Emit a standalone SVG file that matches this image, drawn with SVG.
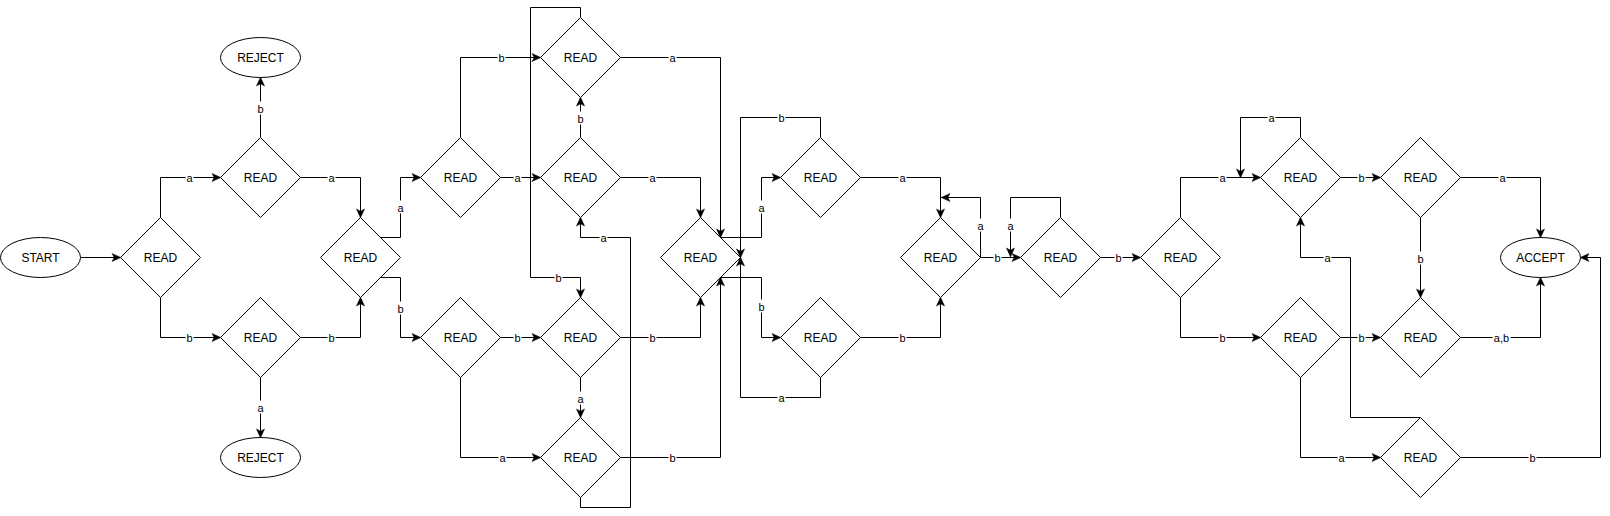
<svg xmlns="http://www.w3.org/2000/svg" width="1610" height="516" viewBox="0 0 1610 516">
<style>
.n{fill:#fff;stroke:#000;stroke-width:1}
.t{font-family:"Liberation Sans",Arial,sans-serif;font-size:12px;fill:#000;text-anchor:middle;dominant-baseline:central}
.e{fill:none;stroke:#000;stroke-width:1;marker-end:url(#ar)}
.l{font-family:"Liberation Sans",Arial,sans-serif;font-size:11px;fill:#000;text-anchor:middle;dominant-baseline:central}
.lb{fill:#fff;stroke:none}
</style>
<defs>
<marker id="ar" viewBox="0 0 10 10" refX="9.5" refY="5" markerWidth="10" markerHeight="9" markerUnits="userSpaceOnUse" orient="auto">
<path d="M0,0.5 L10,5 L0,9.5 L2.5,5 Z" fill="#000" stroke="#000" stroke-width="0.5"/>
</marker>
</defs>
<rect width="1610" height="516" fill="#fff"/>
<g transform="translate(0.5,0.5)">
<g id="connectors">
<path class="e" d="M80,257 L120,257"/>
<path class="e" d="M160,217 L160,177 L220,177"/>
<path class="e" d="M160,297 L160,337 L220,337"/>
<path class="e" d="M260,137 L260,77"/>
<path class="e" d="M260,377 L260,437"/>
<path class="e" d="M300,177 L360,177 L360,217"/>
<path class="e" d="M300,337 L360,337 L360,297"/>
<path class="e" d="M380,237 L400,237 L400,177 L420,177"/>
<path class="e" d="M380,277 L400,277 L400,337 L420,337"/>
<path class="e" d="M460,137 L460,57 L540,57"/>
<path class="e" d="M500,177 L540,177"/>
<path class="e" d="M500,337 L540,337"/>
<path class="e" d="M460,377 L460,457 L540,457"/>
<path class="e" d="M580,137 L580,97"/>
<path class="e" d="M580,377 L580,417"/>
<path class="e" d="M580,17 L580,7 L530,7 L530,277 L580,277 L580,297"/>
<path class="e" d="M580,497 L580,507 L630,507 L630,237 L580,237 L580,217"/>
<path class="e" d="M620,57 L720,57 L720,237"/>
<path class="e" d="M620,177 L700,177 L700,217"/>
<path class="e" d="M620,337 L700,337 L700,297"/>
<path class="e" d="M620,457 L720,457 L720,277"/>
<path class="e" d="M720,237 L761,237 L761,177 L780,177"/>
<path class="e" d="M720,277 L761,277 L761,337 L780,337"/>
<path class="e" d="M820,137 L820,117 L740,117 L740,257"/>
<path class="e" d="M820,377 L820,397 L740,397 L740,257"/>
<path class="e" d="M860,177 L940,177 L940,217"/>
<path class="e" d="M860,337 L940,337 L940,297"/>
<path class="e" d="M980,257 L980,197 L941,197"/>
<path class="e" d="M980,257 L1020,257"/>
<path class="e" d="M1060,217 L1060,197 L1010,197 L1010,256"/>
<path class="e" d="M1100,257 L1140,257"/>
<path class="e" d="M1180,217 L1180,177 L1260,177"/>
<path class="e" d="M1180,297 L1180,337 L1260,337"/>
<path class="e" d="M1300,137 L1300,117 L1240,117 L1240,177"/>
<path class="e" d="M1340,177 L1380,177"/>
<path class="e" d="M1460,177 L1540,177 L1540,237"/>
<path class="e" d="M1420,217 L1420,297"/>
<path class="e" d="M1340,337 L1380,337"/>
<path class="e" d="M1460,337 L1540,337 L1540,277"/>
<path class="e" d="M1300,377 L1300,457 L1380,457"/>
<path class="e" d="M1420,417 L1350,417 L1350,257 L1300,257 L1300,217"/>
<path class="e" d="M1460,457 L1600,457 L1600,257 L1580,257"/>
<g id="labels">
<rect class="lb" x="185" y="170" width="8" height="13"/><text class="l" x="189" y="177">a</text>
<rect class="lb" x="185" y="330" width="8" height="13"/><text class="l" x="189" y="337">b</text>
<rect class="lb" x="256" y="101" width="8" height="13"/><text class="l" x="260" y="108">b</text>
<rect class="lb" x="256" y="400" width="8" height="13"/><text class="l" x="260" y="407">a</text>
<rect class="lb" x="327" y="170" width="8" height="13"/><text class="l" x="331" y="177">a</text>
<rect class="lb" x="327" y="330" width="8" height="13"/><text class="l" x="331" y="337">b</text>
<rect class="lb" x="396" y="200" width="8" height="13"/><text class="l" x="400" y="207">a</text>
<rect class="lb" x="396" y="301" width="8" height="13"/><text class="l" x="400" y="308">b</text>
<rect class="lb" x="497" y="50" width="8" height="13"/><text class="l" x="501" y="57">b</text>
<rect class="lb" x="513" y="170" width="8" height="13"/><text class="l" x="517" y="177">a</text>
<rect class="lb" x="513" y="330" width="8" height="13"/><text class="l" x="517" y="337">b</text>
<rect class="lb" x="498" y="450" width="8" height="13"/><text class="l" x="502" y="457">a</text>
<rect class="lb" x="576" y="111" width="8" height="13"/><text class="l" x="580" y="118">b</text>
<rect class="lb" x="576" y="391" width="8" height="13"/><text class="l" x="580" y="398">a</text>
<rect class="lb" x="554" y="270" width="8" height="13"/><text class="l" x="558" y="277">b</text>
<rect class="lb" x="599" y="230" width="8" height="13"/><text class="l" x="603" y="237">a</text>
<rect class="lb" x="668" y="50" width="8" height="13"/><text class="l" x="672" y="57">a</text>
<rect class="lb" x="648" y="170" width="8" height="13"/><text class="l" x="652" y="177">a</text>
<rect class="lb" x="648" y="330" width="8" height="13"/><text class="l" x="652" y="337">b</text>
<rect class="lb" x="668" y="450" width="8" height="13"/><text class="l" x="672" y="457">b</text>
<rect class="lb" x="757" y="200" width="8" height="13"/><text class="l" x="761" y="207">a</text>
<rect class="lb" x="757" y="299" width="8" height="13"/><text class="l" x="761" y="306">b</text>
<rect class="lb" x="777" y="110" width="8" height="13"/><text class="l" x="781" y="117">b</text>
<rect class="lb" x="777" y="390" width="8" height="13"/><text class="l" x="781" y="397">a</text>
<rect class="lb" x="898" y="170" width="8" height="13"/><text class="l" x="902" y="177">a</text>
<rect class="lb" x="898" y="330" width="8" height="13"/><text class="l" x="902" y="337">b</text>
<rect class="lb" x="976" y="218" width="8" height="13"/><text class="l" x="980" y="225">a</text>
<rect class="lb" x="993" y="250" width="8" height="13"/><text class="l" x="997" y="257">b</text>
<rect class="lb" x="1006" y="218" width="8" height="13"/><text class="l" x="1010" y="225">a</text>
<rect class="lb" x="1114" y="250" width="8" height="13"/><text class="l" x="1118" y="257">b</text>
<rect class="lb" x="1218" y="170" width="8" height="13"/><text class="l" x="1222" y="177">a</text>
<rect class="lb" x="1218" y="330" width="8" height="13"/><text class="l" x="1222" y="337">b</text>
<rect class="lb" x="1267" y="110" width="8" height="13"/><text class="l" x="1271" y="117">a</text>
<rect class="lb" x="1357" y="170" width="8" height="13"/><text class="l" x="1361" y="177">b</text>
<rect class="lb" x="1498" y="170" width="8" height="13"/><text class="l" x="1502" y="177">a</text>
<rect class="lb" x="1416" y="251" width="8" height="13"/><text class="l" x="1420" y="258">b</text>
<rect class="lb" x="1357" y="330" width="8" height="13"/><text class="l" x="1361" y="337">b</text>
<rect class="lb" x="1492" y="330" width="18" height="13"/><text class="l" x="1501" y="337">a,b</text>
<rect class="lb" x="1337" y="450" width="8" height="13"/><text class="l" x="1341" y="457">a</text>
<rect class="lb" x="1323" y="250" width="8" height="13"/><text class="l" x="1327" y="257">a</text>
<rect class="lb" x="1528" y="450" width="8" height="13"/><text class="l" x="1532" y="457">b</text>
</g>
</g>
<g id="start"><ellipse class="n" cx="40" cy="257" rx="40" ry="20"/><text class="t" x="40" y="257">START</text></g>
<g id="read1"><path class="n" d="M160,217 L200,257 L160,297 L120,257 Z"/><text class="t" x="160" y="257">READ</text></g>
<g id="read2"><path class="n" d="M260,137 L300,177 L260,217 L220,177 Z"/><text class="t" x="260" y="177">READ</text></g>
<g id="read3"><path class="n" d="M260,297 L300,337 L260,377 L220,337 Z"/><text class="t" x="260" y="337">READ</text></g>
<g id="reject1"><ellipse class="n" cx="260" cy="57" rx="40" ry="20"/><text class="t" x="260" y="57">REJECT</text></g>
<g id="reject2"><ellipse class="n" cx="260" cy="457" rx="40" ry="20"/><text class="t" x="260" y="457">REJECT</text></g>
<g id="read4"><path class="n" d="M360,217 L400,257 L360,297 L320,257 Z"/><text class="t" x="360" y="257">READ</text></g>
<g id="read5"><path class="n" d="M460,137 L500,177 L460,217 L420,177 Z"/><text class="t" x="460" y="177">READ</text></g>
<g id="read6"><path class="n" d="M460,297 L500,337 L460,377 L420,337 Z"/><text class="t" x="460" y="337">READ</text></g>
<g id="read7"><path class="n" d="M580,17 L620,57 L580,97 L540,57 Z"/><text class="t" x="580" y="57">READ</text></g>
<g id="read8"><path class="n" d="M580,137 L620,177 L580,217 L540,177 Z"/><text class="t" x="580" y="177">READ</text></g>
<g id="read9"><path class="n" d="M580,297 L620,337 L580,377 L540,337 Z"/><text class="t" x="580" y="337">READ</text></g>
<g id="read10"><path class="n" d="M580,417 L620,457 L580,497 L540,457 Z"/><text class="t" x="580" y="457">READ</text></g>
<g id="read11"><path class="n" d="M700,217 L740,257 L700,297 L660,257 Z"/><text class="t" x="700" y="257">READ</text></g>
<g id="read12"><path class="n" d="M820,137 L860,177 L820,217 L780,177 Z"/><text class="t" x="820" y="177">READ</text></g>
<g id="read13"><path class="n" d="M820,297 L860,337 L820,377 L780,337 Z"/><text class="t" x="820" y="337">READ</text></g>
<g id="read14"><path class="n" d="M940,217 L980,257 L940,297 L900,257 Z"/><text class="t" x="940" y="257">READ</text></g>
<g id="read15"><path class="n" d="M1060,217 L1100,257 L1060,297 L1020,257 Z"/><text class="t" x="1060" y="257">READ</text></g>
<g id="read16"><path class="n" d="M1180,217 L1220,257 L1180,297 L1140,257 Z"/><text class="t" x="1180" y="257">READ</text></g>
<g id="read17"><path class="n" d="M1300,137 L1340,177 L1300,217 L1260,177 Z"/><text class="t" x="1300" y="177">READ</text></g>
<g id="read18"><path class="n" d="M1300,297 L1340,337 L1300,377 L1260,337 Z"/><text class="t" x="1300" y="337">READ</text></g>
<g id="read19"><path class="n" d="M1420,137 L1460,177 L1420,217 L1380,177 Z"/><text class="t" x="1420" y="177">READ</text></g>
<g id="read20"><path class="n" d="M1420,297 L1460,337 L1420,377 L1380,337 Z"/><text class="t" x="1420" y="337">READ</text></g>
<g id="read21"><path class="n" d="M1420,417 L1460,457 L1420,497 L1380,457 Z"/><text class="t" x="1420" y="457">READ</text></g>
<g id="accept"><ellipse class="n" cx="1540" cy="257" rx="40" ry="20"/><text class="t" x="1540" y="257">ACCEPT</text></g>
</g>
</svg>
